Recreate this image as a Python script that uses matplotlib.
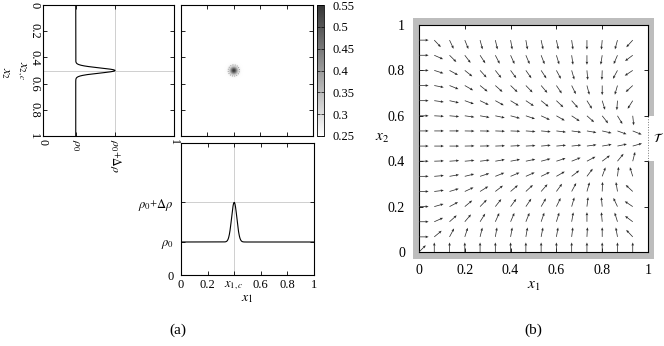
import numpy as np
import matplotlib
matplotlib.use("Agg")
import matplotlib.pyplot as plt
from matplotlib.colors import LinearSegmentedColormap
from matplotlib.patches import Rectangle

plt.rcParams['font.family'] = ['Liberation Serif', 'DejaVu Serif']
plt.rcParams['mathtext.fontset'] = 'stix'
plt.rcParams['font.size'] = 9

# ---------------- data ----------------
rho0 = 0.25          # background density
drho = 0.30          # bump amplitude
x1c = 0.4            # bump centre (x1)
x2c = 0.5            # bump centre (x2)
sigma = 0.02         # bump width
cbar_ticks = [0.25, 0.30, 0.35, 0.40, 0.45, 0.50, 0.55]
unit_ticks = [0, 0.2, 0.4, 0.6, 0.8, 1]
unit_labels = ['0', '0.2', '0.4', '0.6', '0.8', '1']
bottom_xlabels = ['0', '0.2', r'$x_{1,c}$', '0.6', '0.8', '1']

# quiver grid (15 x 15) and arrow angles in degrees, rows from top (x2=14/15) to bottom (x2=0)
grid_pts = np.arange(15) / 15.0
arrow_angles = [
    [0, -47, -65, -68, -75, -77, -80, -80, -78, -78, -82, -90, -95, -105, -132],
    [0, -24, -45, -53, -57, -63, -66, -67, -69, -73, -82, -90, -99, -113, -143],
    [0, -18, -29, -39, -48, -52, -54, -55, -57, -62, -74, -85, -92, -118, -146],
    [0, -11, -22, -30, -39, -42, -44, -46, -50, -56, -64, -75, -90, -106, -137],
    [0, -8, -13, -20, -26, -29, -32, -34, -39, -44, -49, -58, -73, -94, -122],
    [0, -3, -5, -8, -10, -12, -15, -19, -25, -30, -34, -42, -52, -59, -84],
    [0, 0, 0, -1, -1, -2, -2, -4, -5, -7, -8, -10, -13, -20, -22],
    [0, 0, 0, 1, 1, 2, 3, 3, 5, 5, 6, 8, 10, 12, 16],
    [0, 2, 4, 5, 7, 10, 11, 12, 15, 18, 22, 28, 37, 51, 76],
    [0, 5, 10, 14, 18, 22, 23, 24, 26, 30, 38, 53, 70, 83, 107],
    [0, 7, 17, 25, 32, 38, 41, 43, 49, 54, 62, 74, 88, 99, 137],
    [0, 16, 28, 40, 46, 52, 54, 56, 60, 64, 74, 83, 95, 115, 146],
    [0, 24, 42, 50, 58, 66, 67, 68, 71, 73, 80, 90, 95, 107, 143],
    [0, 40, 62, 72, 76, 80, 80, 80, 79, 80, 83, 87, 90, 100, 133],
    [45, 90, 90, 90, 90, 90, 90, 90, 90, 90, 90, 90, 90, 90, 90],
]
arrow_len = 0.042
exit_lo, exit_hi = 0.4, 0.6

# ---------------- figure ----------------
W, H = 664, 346
fig = plt.figure(figsize=(W / 100, H / 100), dpi=100)


def rect(x0, y0, x1, y1):
    return [x0 / W, 1 - y1 / H, (x1 - x0) / W, (y1 - y0) / H]


def style(ax, lw=0.8):
    for s in ax.spines.values():
        s.set_linewidth(lw)
    ax.tick_params(direction='in', length=3, width=0.6, top=True, right=True,
                   labelsize=9)


grid_col = '#c8c8c8'

s = np.linspace(0, 1, 801)
profile = rho0 + drho * np.exp(-(s - x2c) ** 2 / (2 * sigma ** 2))
profile1 = rho0 + drho * np.exp(-(s - x1c) ** 2 / (2 * sigma ** 2))

# left rotated profile
axl = fig.add_axes(rect(43, 5, 174, 136))
style(axl)
axl.axvline(rho0 + drho, color=grid_col, lw=0.6, zorder=0)
axl.axhline(x2c, color=grid_col, lw=0.6, zorder=0)
axl.plot(profile, s, color='black', lw=0.8)
axl.set_xlim(0, 1)
axl.set_ylim(1, 0)
axl.set_yticks(unit_ticks)
axl.set_yticklabels(unit_labels, rotation=-90, va='center')
axl.set_xticks([0, rho0, rho0 + drho, 1])
axl.set_xticklabels(['0', r'$\rho_0$', r'$\rho_0$+$\Delta\rho$', '1'],
                    rotation=-90, ha='center', va='top')
axl.tick_params(axis='y', pad=2)
axl.tick_params(axis='x', pad=2, labelsize=8.5)
fig.text(21 / W, 1 - 71 / H, r'$x_{2,c}$', rotation=-90, ha='center', va='center', fontsize=9)
fig.text(5 / W, 1 - 73 / H, r'$x_2$', rotation=-90, ha='center', va='center', fontsize=9)

# heat map
cmap = LinearSegmentedColormap.from_list('g', ['#ffffff', '#353535'])
X, Y = np.meshgrid(np.linspace(0, 1, 400), np.linspace(0, 1, 400))
Z = rho0 + drho * np.exp(-((X - x1c) ** 2 + (Y - x2c) ** 2) / (2 * sigma ** 2))
axh = fig.add_axes(rect(181, 5, 313, 136))
style(axh)
im = axh.imshow(Z, extent=[0, 1, 1, 0], origin='upper', cmap=cmap,
                vmin=cbar_ticks[0], vmax=cbar_ticks[-1], interpolation='bilinear',
                aspect='auto')
axh.contour(X, Y, Z, levels=[rho0 + 0.03], colors='#888888', linewidths=0.6,
            linestyles=':')
axh.set_xlim(0, 1)
axh.set_ylim(1, 0)
axh.set_xticks(unit_ticks[1:-1])
axh.set_yticks(unit_ticks[1:-1])
axh.set_xticklabels([])
axh.set_yticklabels([])

cax = fig.add_axes(rect(317, 5, 324, 136))
cb = fig.colorbar(im, cax=cax, ticks=cbar_ticks)
cb.outline.set_linewidth(0.6)
cb.ax.set_yticklabels(['%g' % t for t in cbar_ticks])
cb.ax.tick_params(direction='in', length=2.5, width=0.5, left=True, right=True,
                  labelsize=9, pad=6)

# bottom profile
axb = fig.add_axes(rect(181, 143, 314, 275))
style(axb)
axb.axvline(x1c, color=grid_col, lw=0.6, zorder=0)
axb.axhline(rho0 + drho, color=grid_col, lw=0.6, zorder=0)
axb.plot(s, profile1, color='black', lw=0.8)
axb.set_xlim(0, 1)
axb.set_ylim(0, 1)
axb.set_xticks(unit_ticks)
axb.set_xticklabels(bottom_xlabels)
axb.set_yticks([0, rho0, rho0 + drho])
axb.set_yticklabels(['0', r'$\rho_0$', r'$\rho_0$+$\Delta\rho$'])
axb.tick_params(axis='x', pad=3)
axb.tick_params(axis='y', pad=5)
axb.set_xlabel(r'$x_1$', fontsize=10, labelpad=0)

# panel (b): direction field
axq = fig.add_axes(rect(419, 25, 648, 252))
style(axq)
axq.set_xlim(0, 1)
axq.set_ylim(0, 1)
ang = np.deg2rad(np.array(arrow_angles)[::-1])  # rows now bottom -> top
GX, GY = np.meshgrid(grid_pts, grid_pts)
U = arrow_len * np.cos(ang)
V = arrow_len * np.sin(ang)
axq.quiver(GX, GY, U, V, angles='xy', scale_units='xy', scale=1,
           color='#2a2a2a', width=0.0032, headwidth=3.6, headlength=4.2,
           headaxislength=3.8, zorder=3)
axq.set_xticks(unit_ticks)
axq.set_yticks(unit_ticks)
axq.set_xticklabels(unit_labels)
axq.set_yticklabels(unit_labels)
axq.tick_params(axis='x', pad=9, labelsize=10)
axq.tick_params(axis='y', pad=10, labelsize=10)
axq.set_xlabel(r'$x_1$', fontsize=11, labelpad=2)
axq.set_ylabel(r'$x_2$', fontsize=11, rotation=0, labelpad=4, va='center')

# walls
wall = '#bdbdbd'
tx, ty = 6 / 229, 7 / 227
for (x0, y0, w, h) in [(-tx, -ty, tx, 1 + 2 * ty),        # left
                       (-tx, 1, 1 + 2 * tx, ty),          # top
                       (-tx, -ty, 1 + 2 * tx, ty),        # bottom
                       (1, exit_hi, tx, 1 - exit_hi + ty),  # right upper
                       (1, -ty, tx, exit_lo + ty)]:       # right lower
    axq.add_patch(Rectangle((x0, y0), w, h, transform=axq.transAxes,
                            facecolor=wall, edgecolor='none', clip_on=False, zorder=1))
axq.spines['right'].set_visible(False)
axq.plot([1, 1], [exit_hi, 1], color='black', lw=0.8, transform=axq.transAxes, clip_on=False)
axq.plot([1, 1], [0, exit_lo], color='black', lw=0.8, transform=axq.transAxes, clip_on=False)
axq.plot([1, 1], [exit_lo, exit_hi], color='#777777', lw=0.7, ls=':',
         transform=axq.transAxes, clip_on=False)
axq.text(1.045, 0.5, r'$\mathcal{T}$', transform=axq.transAxes, ha='center',
         va='center', fontsize=9)

fig.text(178 / W, 1 - 330 / H, '(a)', ha='center', va='center', fontsize=11)
fig.text(533 / W, 1 - 330 / H, '(b)', ha='center', va='center', fontsize=11)

fig.savefig('out.png', dpi=100)
